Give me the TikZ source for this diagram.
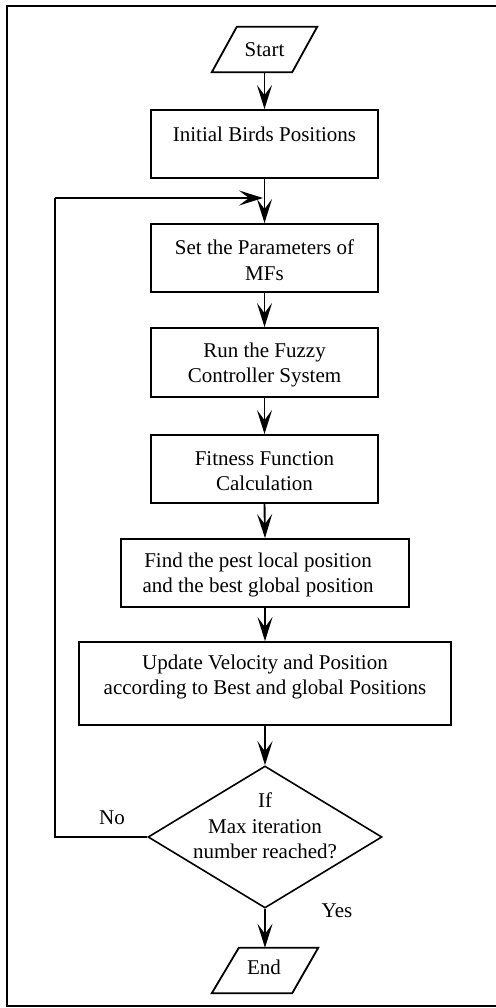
\documentclass[tikz,border=0pt]{standalone}
\usepackage{fontspec}
\setmainfont{Liberation Serif}
\usetikzlibrary{arrows.meta,shapes.geometric,calc}
\begin{document}
\begin{tikzpicture}[x=1pt,y=1pt,
  box/.style={draw,line width=1.8pt,inner sep=0pt},
  txt/.style={align=center,inner sep=0pt,font=\fontsize{21}{25.5}\selectfont},
  para/.style={inner sep=0pt,font=\fontsize{21}{25.5}\selectfont},
  arr/.style={line width=1.9pt,-{Stealth[length=24pt,width=15pt,inset=10pt]}},
  ln/.style={line width=1.8pt},
  lbl/.style={inner sep=0pt,font=\fontsize{21}{25.5}\selectfont}]
\useasboundingbox (0,0) rectangle (495,-1008);
\draw[line width=1.6pt] (496,-6) -- (7,-6) -- (7,-1006) -- (496,-1006);

% Start
\node[para,minimum width=105pt,minimum height=45pt] (start) at (264.5,-49.5) {};
\draw[line width=1.8pt] (start.south west) -- ($(start.north west)+(25,0)$) -- (start.north east) -- ($(start.south east)+(-25,0)$) -- cycle;
\node[para] (startt) at (264.5,-50) {Start};

% Boxes
\node[box,minimum width=227pt,minimum height=68pt] (init) at (264.5,-144) {};
\node[txt] (initt) at (264.5,-134) {Initial Birds Positions};

\node[box,minimum width=227pt,minimum height=68pt] (set) at (264.5,-258) {};
\node[txt] (sett) at (264.5,-260) {Set the Parameters of\\MFs};

\node[box,minimum width=227pt,minimum height=69pt] (run) at (264.5,-362.5) {};
\node[txt] (runt) at (264.5,-365) {Run the Fuzzy\\Controller System};

\node[box,minimum width=227pt,minimum height=68pt] (fit) at (264.5,-469) {};
\node[txt] (fitt) at (264.5,-471) {Fitness Function\\Calculation};

\node[box,minimum width=288pt,minimum height=68pt] (find) at (265,-573) {};
\node[txt] (findt) at (258,-575) {Find the pest local position\\and the best global position};

\node[box,minimum width=372pt,minimum height=83pt] (upd) at (265,-683.5) {};
\node[txt] (updt) at (265,-677) {Update Velocity and Position\\according to Best and global Positions};

% Diamond
\node[diamond,draw,line width=1.6pt,inner sep=0pt,minimum width=234pt,minimum height=142pt,aspect=1.65] (dec) at (265,-837) {};
\node[txt] (dect) at (265,-826) {If\\Max iteration\\number reached?};

% End
\node[para,minimum width=106pt,minimum height=45pt] (end) at (265,-970.5) {};
\draw[line width=1.8pt] (end.south west) -- ($(end.north west)+(27,0)$) -- (end.north east) -- ($(end.south east)+(-26,0)$) -- cycle;
\node[para] (endt) at (264,-967) {End};

% connectors
\coordinate (join) at (264.5,-198);
\coordinate (lb) at (55,-837);
\coordinate (lt) at (55,-198);
\draw[arr] (start.south) -- (init.north);
\draw[arr] (init.south) -- (set.north);
\draw[arr] (set.south) -- (run.north);
\draw[arr] (run.south) -- (fit.north);
\draw[arr] (fit.south) -- (find.north);
\draw[arr] (find.south) -- (upd.north);
\draw[arr] (upd.south) -- (dec.north);
\draw[arr] (dec.south) -- (end.north);
\draw[ln] (dec.west) -- (lb) -- (lt);
\draw[arr,shorten >=1.5pt] (lt) -- (join);

\node[lbl] (no) at (112,-818) {No};
\node[lbl] (yes) at (337,-911) {Yes};
\end{tikzpicture}
\end{document}
